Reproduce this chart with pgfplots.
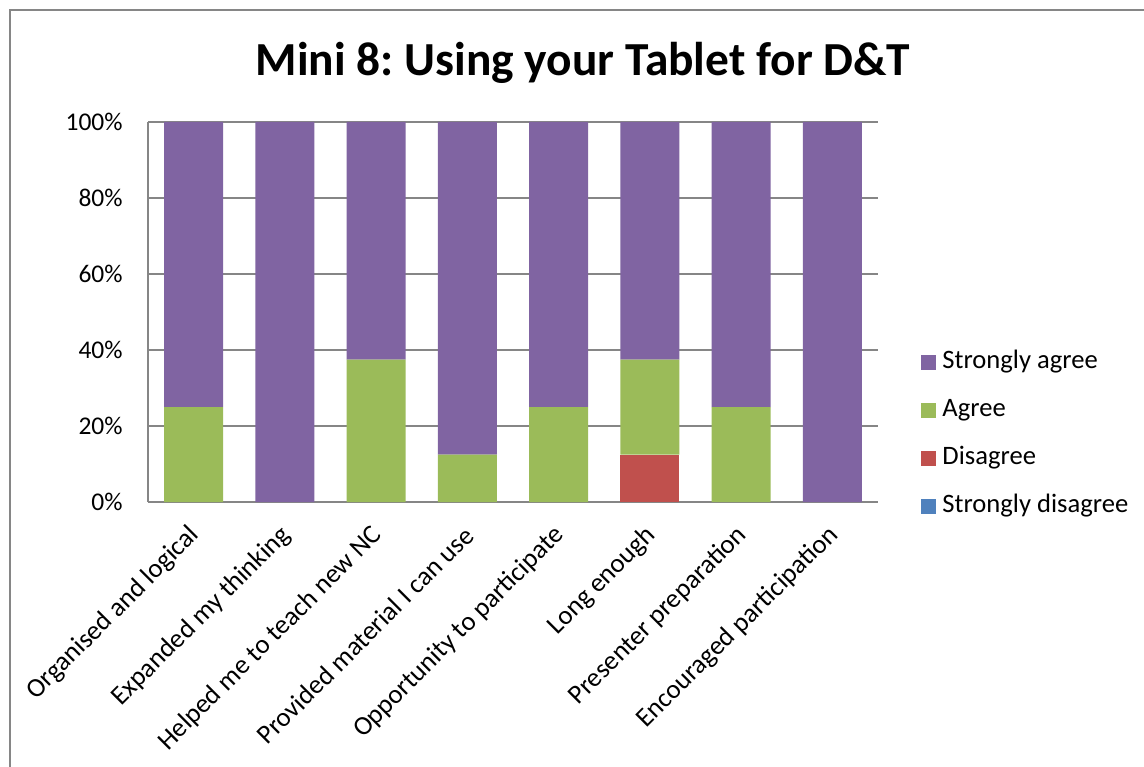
\documentclass[border=0pt]{standalone}
\usepackage{pgfplots}
\pgfplotsset{compat=1.18}
\usepackage{fontspec}
\setmainfont{Carlito}
\frenchspacing
\definecolor{sagree}{HTML}{8064A2}
\definecolor{agree}{HTML}{9BBB59}
\definecolor{dis}{HTML}{C0504D}
\definecolor{sdis}{HTML}{4F81BD}
\definecolor{gridgray}{HTML}{868686}
\begin{document}
\begin{tikzpicture}
\useasboundingbox (0pt,0pt) rectangle (572pt,383pt);
\draw[color=gridgray, line width=0.8pt] (5pt,-2pt) -- (5pt,378pt) -- (580pt,378pt);
\node[anchor=base, font=\bfseries\fontsize{23.7}{28}\selectfont] at (291.5pt,345pt) {Mini 8: Using your Tablet for D\&T};
\begin{axis}[
  at={(74pt,132pt)}, anchor=south west,
  scale only axis, width=365pt, height=190pt,
  ybar stacked, bar width=29.5pt,
  xmin=-0.5, xmax=7.5, ymin=0, ymax=100,
  xtick={0,1,2,3,4,5,6,7},
  xticklabels={Organised and logical, Expanded my thinking, Helped me to teach new NC, Provided material I can use, Opportunity to participate, Long enough, Presenter preparation, Encouraged participation},
  ytick={0,20,40,60,80,100},
  yticklabel={\pgfmathprintnumber{\tick}\%},
  /pgf/number format/assume math mode=true,
  ymajorgrids, grid style={color=gridgray, line width=0.8pt},
  axis x line*=bottom, axis y line*=left,
  axis line style={color=gridgray, line width=0.8pt, -},
  major tick length=0pt,
  yticklabel style={font=\fontsize{12.75}{15}\selectfont, anchor=east, inner sep=0pt, xshift=-12.5pt},
  xticklabel style={font=\fontsize{13.4}{16}\selectfont, xshift=1pt, yshift=-14.5pt, rotate=45, anchor=east, inner sep=0pt},
  reverse legend,
  legend cell align=left,
  legend style={at={(1.059,0.4)}, anchor=north west, draw=none, fill=none,
    font=\fontsize{13.3}{16}\selectfont, row sep=12pt, column sep=3pt, inner sep=0pt,
    nodes={inner sep=0pt, text height=9pt, text depth=3pt}},
  legend image code/.code={\fill[#1] (0pt,-3.75pt) rectangle (7.5pt,3.75pt);},
]
\addplot[fill=sdis, draw=none] coordinates {(0,0) (1,0) (2,0) (3,0) (4,0) (5,0) (6,0) (7,0)};
\addlegendentry{Strongly disagree}
\addplot[fill=dis, draw=none] coordinates {(0,0) (1,0) (2,0) (3,0) (4,0) (5,12.5) (6,0) (7,0)};
\addlegendentry{Disagree}
\addplot[fill=agree, draw=none] coordinates {(0,25) (1,0) (2,37.5) (3,12.5) (4,25) (5,25) (6,25) (7,0)};
\addlegendentry{Agree}
\addplot[fill=sagree, draw=none] coordinates {(0,75) (1,100) (2,62.5) (3,87.5) (4,75) (5,62.5) (6,75) (7,100)};
\addlegendentry{Strongly agree}
\end{axis}
\end{tikzpicture}
\end{document}
